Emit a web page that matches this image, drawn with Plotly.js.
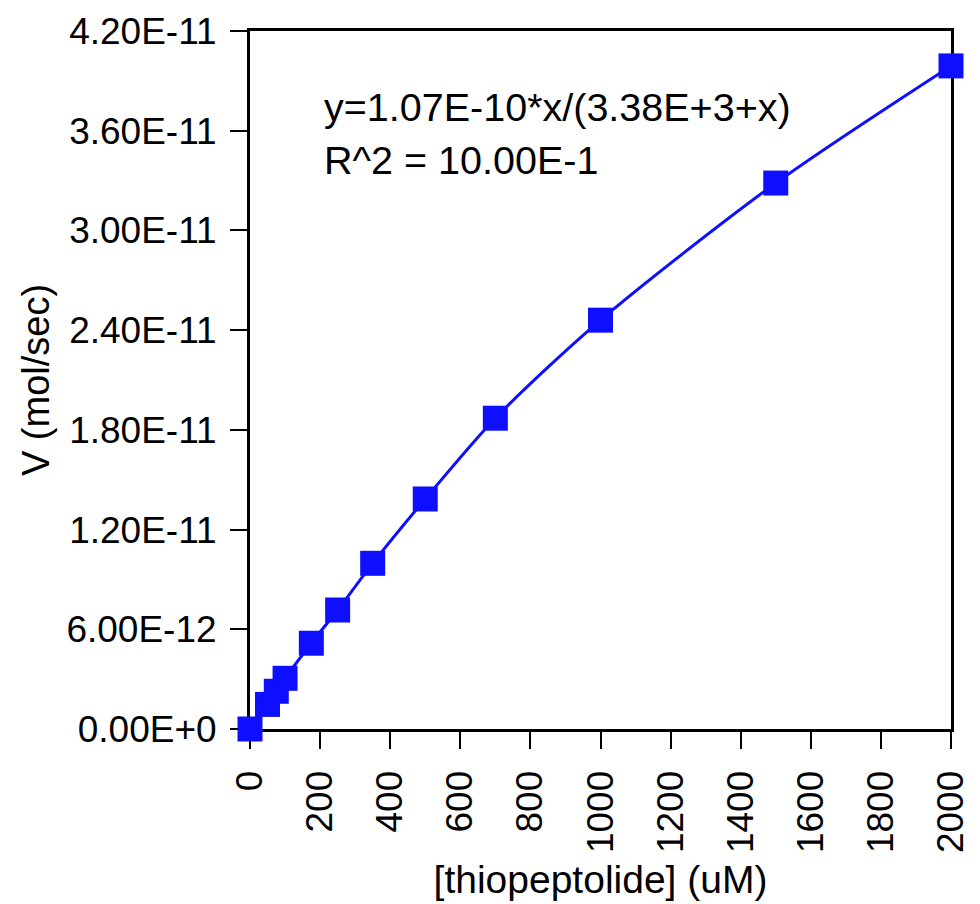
<!DOCTYPE html>
<html>
<head>
<meta charset="utf-8">
<script src="https://cdn.plot.ly/plotly-3.0.1.min.js"></script>
<style>html,body{margin:0;padding:0;background:#fff;}#chart{width:980px;height:904px;}</style>
</head>
<body>
<div id="chart"></div>
<script>
const concentration = [0, 50, 75, 100, 175, 250, 350, 500, 700, 1000, 1500, 2000];
const velocity = [0, 1.48e-12, 2.27e-12, 3.05e-12, 5.16e-12, 7.16e-12, 9.97e-12, 1.384e-11, 1.87e-11, 2.46e-11, 3.285e-11, 3.99e-11];
const yTickVals = [0, 6e-12, 1.2e-11, 1.8e-11, 2.4e-11, 3.0e-11, 3.6e-11, 4.2e-11];
const yTickText = ["0.00E+0", "6.00E-12", "1.20E-11", "1.80E-11", "2.40E-11", "3.00E-11", "3.60E-11", "4.20E-11"];
const xTickVals = [0, 200, 400, 600, 800, 1000, 1200, 1400, 1600, 1800, 2000];
const fitText = "y=1.07E-10*x/(3.38E+3+x)";
const r2Text = "R^2 = 10.00E-1";

const blue = "#0f0fff";
const font = "Liberation Sans, Arial, Helvetica, sans-serif";

const traces = [
  {
    x: concentration, y: velocity, type: "scatter", mode: "lines",
    line: {color: blue, width: 3, shape: "spline", smoothing: 0.8},
    cliponaxis: false, hoverinfo: "skip"
  },
  {
    x: concentration, y: velocity, type: "scatter", mode: "markers",
    marker: {symbol: "square", size: 25, color: blue, line: {width: 0}},
    cliponaxis: false
  }
];

const layout = {
  width: 980, height: 904,
  margin: {l: 250, r: 29, t: 31, b: 175},
  paper_bgcolor: "#fff", plot_bgcolor: "#fff",
  showlegend: false,
  font: {family: font, color: "#000"},
  xaxis: {
    range: [0, 2000], tickvals: xTickVals, tickangle: -90,
    ticks: "outside", ticklen: 17, tickwidth: 2, tickcolor: "#000",
    showline: true, linewidth: 3, linecolor: "#000", mirror: true,
    showgrid: false, zeroline: false, layer: "below traces",
    tickfont: {size: 37, family: font}, ticklabelstandoff: 7,
    title: {text: "[thiopeptolide] (uM)", font: {size: 39, family: font}, standoff: 14},
    automargin: false
  },
  yaxis: {
    range: [0, 4.2e-11], tickvals: yTickVals, ticktext: yTickText,
    ticks: "outside", ticklen: 17, tickwidth: 2, tickcolor: "#000",
    showline: true, linewidth: 3, linecolor: "#000", mirror: true,
    showgrid: false, zeroline: false, layer: "below traces",
    tickfont: {size: 37, family: font}, ticklabelstandoff: 6,
    title: {text: "V (mol/sec)", font: {size: 38, family: font}, standoff: 6},
    automargin: false
  },
  annotations: [
    {xref: "paper", yref: "paper", x: 0.102, y: 0.891, xanchor: "left", yanchor: "middle",
     text: fitText, showarrow: false, font: {size: 39.5, family: font}},
    {xref: "paper", yref: "paper", x: 0.102, y: 0.815, xanchor: "left", yanchor: "middle",
     text: r2Text, showarrow: false, font: {size: 39.5, family: font}}
  ]
};

Plotly.newPlot("chart", traces, layout, {staticPlot: true, displayModeBar: false});
</script>
</body>
</html>
